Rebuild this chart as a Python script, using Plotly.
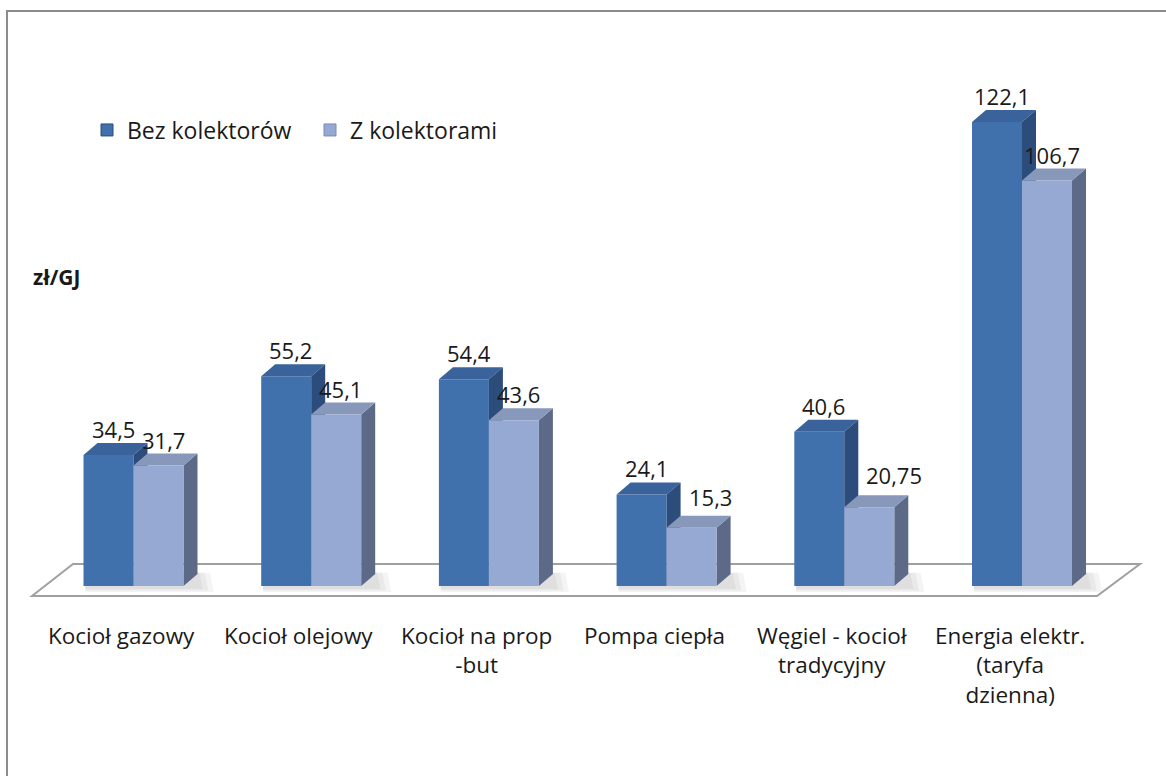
import plotly.graph_objects as go

# ---------------- data ----------------
categories = ["Kocioł gazowy", "Kocioł olejowy", "Kocioł na prop<br>-but", "Pompa ciepła",
              "Węgiel - kocioł<br>tradycyjny", "Energia elektr.<br>(taryfa<br>dzienna)"]
series_names = ["Bez kolektorów", "Z kolektorami"]
bez = [34.5, 55.2, 54.4, 24.1, 40.6, 122.1]
z_kol = [31.7, 45.1, 43.6, 15.3, 20.75, 106.7]
bez_labels = ["34,5", "55,2", "54,4", "24,1", "40,6", "122,1"]
z_labels = ["31,7", "45,1", "43,6", "15,3", "20,75", "106,7"]
y_title = "zł/GJ"

# ---------------- geometry / style ----------------
W, H = 1166, 776
PX_C0, PX_STEP = 133.5, 177.7        # pixel centre of first group, spacing
PX_BASE, PX_PER_UNIT = 586.0, 3.80   # pixel of value 0, px per unit
BAR_W = 50 / PX_STEP
DX = 14 / PX_STEP
DY = 12 / PX_PER_UNIT
# label nudges (px) for light-bar labels that sit beside a taller neighbour
LIGHT_LABEL_NUDGE = {3: (14, 5), 4: (20, 6)}

xr = [(0 - PX_C0) / PX_STEP, (W - PX_C0) / PX_STEP]
yr = [(PX_BASE - H) / PX_PER_UNIT, PX_BASE / PX_PER_UNIT]

FONT = "Open Sans, Lato, sans-serif"
TXT = "#1a1a1a"
DARK = dict(front="#4171AD", top="#3A639C", side="#2C4C7C")
LIGHT = dict(front="#95A9D3", top="#8798BA", side="#5D6A87")


def faces(vals, off):
    fx, fy, tx, ty, sx, sy = [], [], [], [], [], []
    for i, v in enumerate(vals):
        x0 = i + off
        x1 = x0 + BAR_W
        fx += [x0, x1, x1, x0, x0, None]
        fy += [0, 0, v, v, 0, None]
        tx += [x0, x1, x1 + DX, x0 + DX, x0, None]
        ty += [v, v, v + DY, v + DY, v, None]
        sx += [x1, x1 + DX, x1 + DX, x1, x1, None]
        sy += [0, DY, v + DY, v, 0, None]
    return (fx, fy), (tx, ty), (sx, sy)


fig = go.Figure()


def add_poly(xy, color):
    fig.add_trace(go.Scatter(x=xy[0], y=xy[1], mode="lines", fill="toself",
                             fillcolor=color, line=dict(width=0, color=color),
                             hoverinfo="skip", showlegend=False))


n = len(categories)
# soft shadows on floor
for k in range(3):
    sh_x, sh_y = [], []
    grow = 0.03 * k
    for i in range(n):
        x1 = i + BAR_W
        sh_x += [i - BAR_W + 0.01, x1 + DX + 0.03 + grow, x1 + DX + 0.01 + grow,
                 i - BAR_W + 0.01, None]
        sh_y += [-0.8 - 0.4 * k, -0.8 - 0.4 * k, DY + 0.3, DY + 0.3, None]
    fig.add_trace(go.Scatter(x=sh_x, y=sh_y, mode="lines", fill="toself",
                             fillcolor="rgba(110,110,110,0.08)", line=dict(width=0),
                             hoverinfo="skip", showlegend=False))

df, dt, ds = faces(bez, -BAR_W)
lf, lt, ls = faces(z_kol, 0)
add_poly(df, DARK["front"])
add_poly(dt, DARK["top"])
add_poly(ds, DARK["side"])
add_poly(ls, LIGHT["side"])
add_poly(lt, LIGHT["top"])
add_poly(lf, LIGHT["front"])

# legend entries
fig.add_trace(go.Bar(x=[None], y=[None], name=series_names[0],
                     marker=dict(color=DARK["front"], line=dict(color="#2C4C7C", width=1))))
fig.add_trace(go.Bar(x=[None], y=[None], name=series_names[1],
                     marker=dict(color=LIGHT["front"], line=dict(color="#7A8CB3", width=1))))

annotations = []
for i in range(n):
    annotations.append(dict(x=i - BAR_W / 2 + DX / 3, y=bez[i] + DY, text=bez_labels[i],
                            xref="x", yref="y", showarrow=False, yanchor="bottom", yshift=-3,
                            font=dict(size=22, color=TXT, family=FONT)))
    nx, ny = LIGHT_LABEL_NUDGE.get(i, (0, 0))
    annotations.append(dict(x=BAR_W / 2 + i + DX / 3, y=z_kol[i] + DY, text=z_labels[i],
                            xref="x", yref="y", showarrow=False, yanchor="bottom",
                            xshift=nx, yshift=-3 + ny,
                            font=dict(size=22, color=TXT, family=FONT)))
    annotations.append(dict(x=i - 0.07, y=(PX_BASE - 618) / PX_PER_UNIT, text=categories[i],
                            xref="x", yref="y", showarrow=False, yanchor="top",
                            align="center",
                            font=dict(size=22.5, color=TXT, family=FONT)))
annotations.append(dict(x=31 / W, y=1 - 277 / H, xref="paper", yref="paper",
                        text="<b>" + y_title + "</b>", showarrow=False,
                        xanchor="left", yanchor="middle",
                        font=dict(size=21, color=TXT, family=FONT)))

# floor
fl = [(32, 596), (73, 564), (1140, 564), (1097, 596)]
fl_d = [((px - PX_C0) / PX_STEP, (PX_BASE - py) / PX_PER_UNIT) for px, py in fl]
path = "M " + " L ".join(f"{a},{b}" for a, b in fl_d) + " Z"

shapes = [
    dict(type="path", path=path, xref="x", yref="y", fillcolor="white",
         line=dict(color="#A0A0A0", width=2), layer="below"),
    dict(type="rect", xref="paper", yref="paper", x0=7 / W, y0=1 - 11 / H,
         x1=1.02, y1=-0.02, line=dict(color="#8C8C8C", width=2),
         fillcolor="rgba(0,0,0,0)", layer="above"),
]

fig.update_layout(
    width=W, height=H,
    margin=dict(l=0, r=0, t=0, b=0),
    paper_bgcolor="white", plot_bgcolor="white",
    xaxis=dict(range=xr, visible=False, fixedrange=True),
    yaxis=dict(range=yr, visible=False, fixedrange=True),
    showlegend=True,
    legend=dict(orientation="h", x=87 / W, y=1 - 130 / H, xanchor="left", yanchor="middle",
                font=dict(size=23, color=TXT, family=FONT),
                bgcolor="rgba(0,0,0,0)", itemwidth=30, traceorder="normal",
                entrywidth=178),
    annotations=annotations,
    shapes=shapes,
    font=dict(family=FONT),
)

fig.write_html("out.html", config={"displayModeBar": False},
               post_script="document.body.style.margin='0';document.body.style.overflow='hidden';")
